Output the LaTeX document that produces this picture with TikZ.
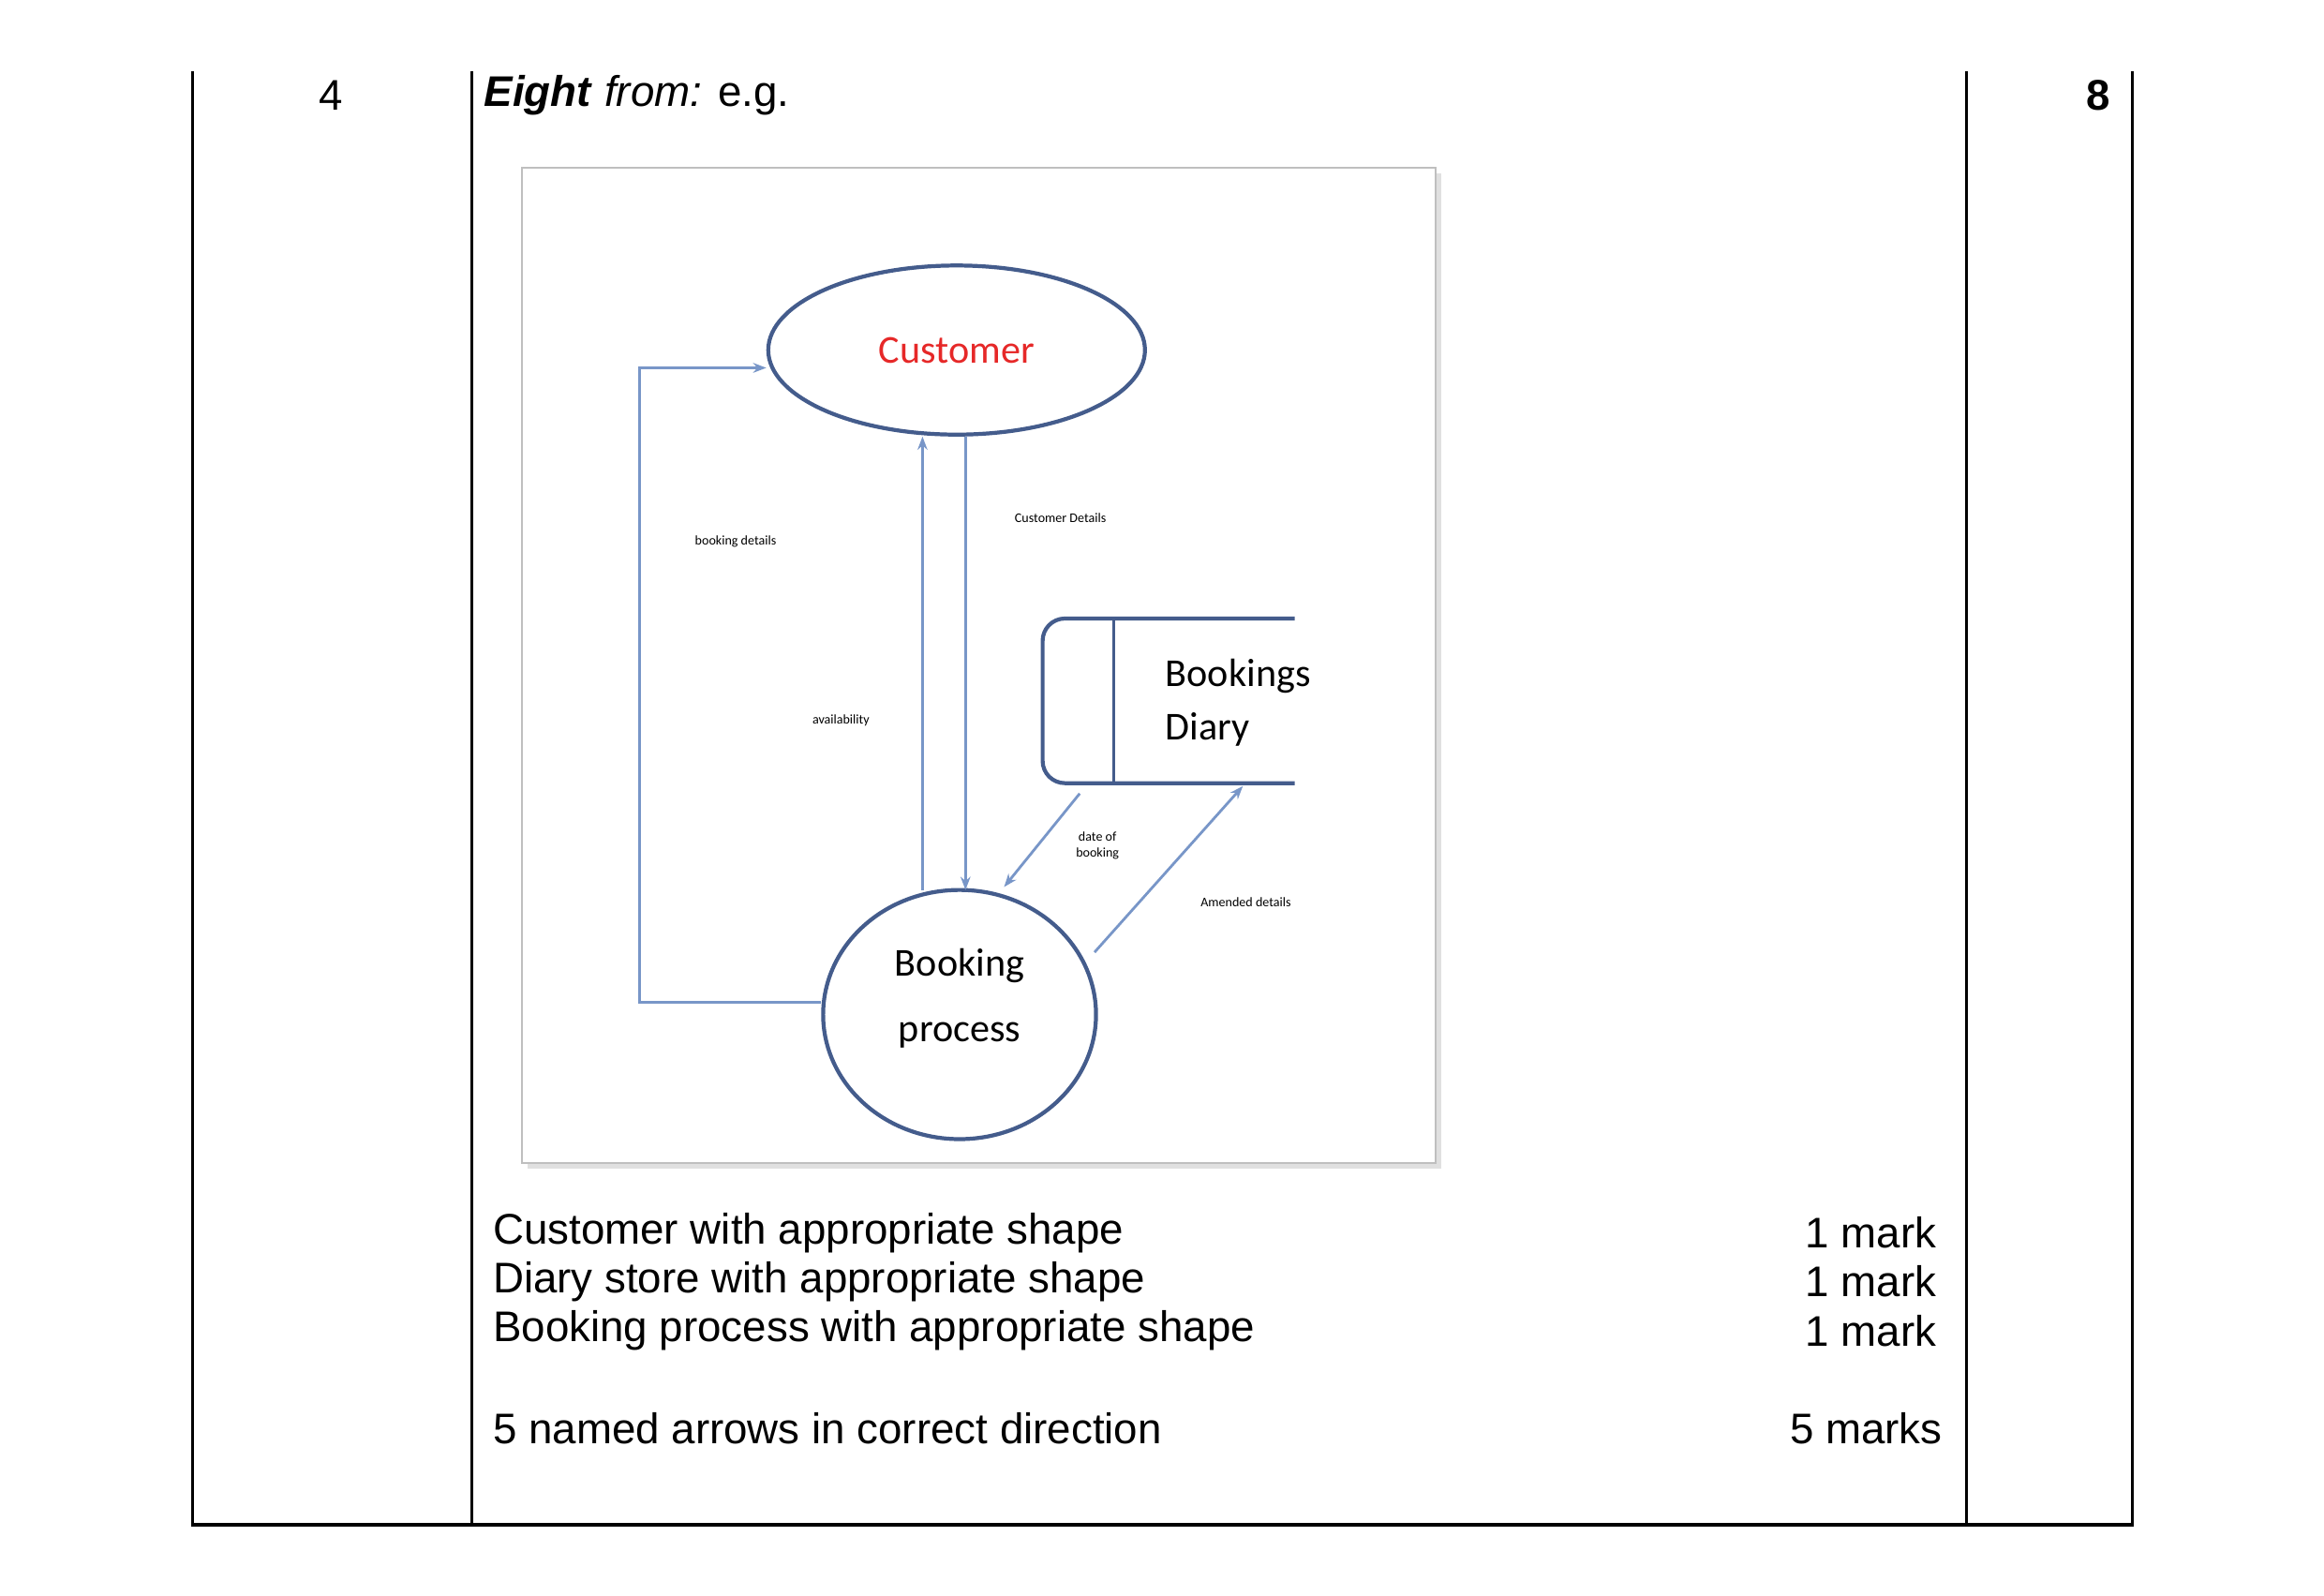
\documentclass[tikz,border=0pt]{standalone}
\usepackage{fontspec}
\setmainfont{Liberation Sans}
\newfontfamily\dfdfont{Carlito}
\usetikzlibrary{arrows.meta,shapes.geometric,positioning,calc}
\definecolor{dfdblue}{RGB}{68,92,140}
\definecolor{arrowblue}{RGB}{120,150,200}
\definecolor{custred}{RGB}{230,40,40}

\begin{document}
\begin{tikzpicture}[
    x=0.015826cm, y=-0.015826cm,
    rule/.style={line width=0.9pt, black},
    body/.style={font=\fontsize{13}{15}\selectfont, anchor=west, inner sep=0pt},
    score/.style={font=\fontsize{13}{15}\selectfont, anchor=east, inner sep=0pt},
    flow/.style={-{Stealth[length=4pt]}, arrowblue, line width=0.8pt},
    dfdtext/.style={font=\dfdfont\fontsize{12}{14}\selectfont},
    flowlabel/.style={font=\dfdfont\fontsize{4}{5}\selectfont, inner sep=0pt, align=center}
]
    \useasboundingbox (0,0) rectangle (1567,1076);
    \fill[white] (0,0) rectangle (1567,1076);

    % table rules
    \draw[rule] (130,48) -- (130,1028) -- (1438,1028) -- (1438,48);
    \draw[rule] (318,48) -- (318,1028);
    \draw[rule] (1326,48) -- (1326,1028);
    \node[body, anchor=center] (qnum) at (223,64) {4};
    \node[body] (head) at (326,64) {\textbf{\textit{Eight}} \textit{from:} e.g.};
    \node[body, anchor=center] (total) at (1415,64) {\textbf{8}};

    % picture frame
    \fill[black!12] (356,117) rectangle (972,788);
    \draw[black!25, fill=white] (352,113) rectangle (968,784);

    % nodes
    \node[ellipse, draw=dfdblue, line width=1.2pt, minimum width=254*0.015826cm, minimum height=114*0.015826cm, text=custred, dfdtext] (cust) at (645,236) {Customer};
    \node[ellipse, draw=dfdblue, line width=1.2pt, minimum width=184*0.015826cm, minimum height=168*0.015826cm] (proc) at (647,684) {};
    \node[dfdtext] (proct) at (647,651) {Booking};
    \node[dfdtext] (procb) at (647,698) {process};
    \draw[dfdblue, line width=1.2pt, rounded corners=15*0.015826cm] (873,417) -- (703,417) -- (703,528) -- (873,528);
    \draw[dfdblue, line width=1pt] (751,417) -- (751,528);
    \node[dfdtext, anchor=west] (storea) at (778,456) {Bookings};
    \node[dfdtext, anchor=west] (storeb) at (778,492) {Diary};
    \coordinate (storel) at (728,535);
    \coordinate (storer) at (838,530);

    % flows
    \draw[flow] (proc.west |- 0,676) -- (431,676) -- (431,248) -- (cust.west |- 0,248);
    \draw[flow] (622,600) -- (cust.south -| 622,0);
    \draw[flow] (cust.south -| 651,0) -- (651,600);
    \draw[flow] (storel) -- (677,598);
    \draw[flow] (738,642) -- (storer);

    \node[flowlabel] (lbook) at (496,365) {booking details};
    \node[flowlabel] (lavail) at (567,486) {availability};
    \node[flowlabel] (lcust) at (715,349) {Customer Details};
    \node[flowlabel] (ldate) at (740,570) {date of\\booking};
    \node[flowlabel] (lamend) at (840,608) {Amended details};

    % marking scheme
    \node[body] (m1) at (332,831) {Customer with appropriate shape};
    \node[body] (m2) at (332,864) {Diary store with appropriate shape};
    \node[body] (m3) at (332,897) {Booking process with appropriate shape};
    \node[body] (m4) at (332,963) {5 named arrows in correct direction};
    \node[score] (s1) at (1306,831) {1 mark};
    \node[score] (s2) at (1306,864) {1 mark};
    \node[score] (s3) at (1306,897) {1 mark};
    \node[score] (s4) at (1310,963) {5 marks};
\end{tikzpicture}
\end{document}
